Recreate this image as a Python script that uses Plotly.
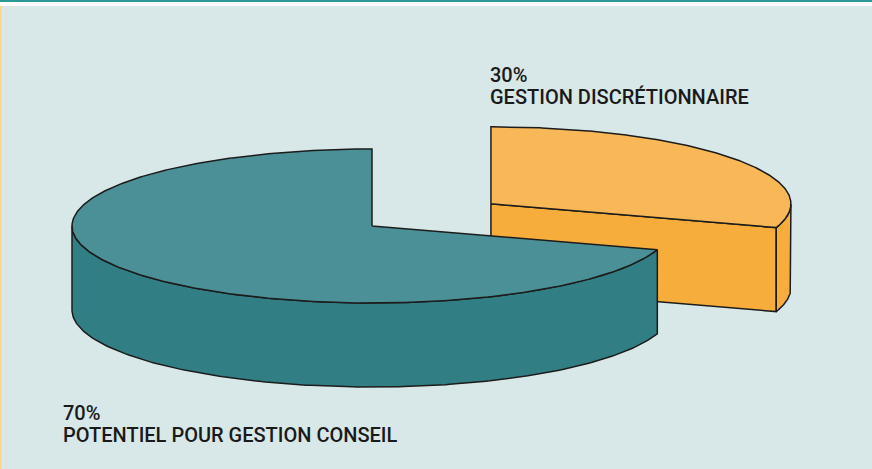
import numpy as np
import plotly.graph_objects as go

# ---- data ----
labels = ["GESTION DISCRÉTIONNAIRE", "POTENTIEL POUR GESTION CONSEIL"]
values = [30, 70]
pct_labels = ["30%", "70%"]

# ---- style ----
top_colors = ["#f8b857", "#4b9096"]
side_colors = ["#f6ad3c", "#317e84"]
edge_color = "#1c1c1c"
bg = "#d8e7e7"
W, H = 872, 469
CX, CY = 372, 226       # pie centre (pixel space)
RX, RY = 300, 77        # ellipse radii
DEPTH = 84
EXPLODE = [0.49, 0.0]   # fraction of radius
START = 90.0

fig = go.Figure()

total = float(sum(values))
angles = []
cum = 0.0
for v in values:
    a0 = START - cum / total * 360.0
    a1 = START - (cum + v) / total * 360.0
    angles.append((a0, a1))
    cum += v


def pt(cx, cy, th, dz=0.0):
    r = np.radians(th)
    return cx + RX * np.cos(r), cy - RY * np.sin(r) + dz


def add_poly(xs, ys, color):
    fig.add_trace(go.Scatter(x=list(xs), y=list(ys), mode="lines", fill="toself",
                             fillcolor=color, line=dict(color=edge_color, width=1.5),
                             hoverinfo="skip", showlegend=False))


slices = []
for i, (a0, a1) in enumerate(angles):
    mid = np.radians((a0 + a1) / 2)
    sx = CX + EXPLODE[i] * RX * np.cos(mid)
    sy = CY - EXPLODE[i] * RY * np.sin(mid)
    slices.append((np.sin(mid) * EXPLODE[i], i, sx, sy, a0, a1))

# draw back to front
slices.sort(key=lambda s: -s[0])

for _, i, sx, sy, a0, a1 in slices:
    # cut faces
    for edge, normal in ((a0, a0 + 90), (a1, a1 - 90)):
        if np.sin(np.radians(normal)) < -1e-3:
            ex, ey = pt(sx, sy, edge)
            add_poly([sx, ex, ex, sx, sx], [sy, ey, ey + DEPTH, sy + DEPTH, sy], side_colors[i])
    # outer wall (front part, sin < 0)
    lo, hi = a1, a0
    segs = []
    for k in range(-3, 3):
        f_lo, f_hi = -180 + 360 * k, 0 + 360 * k
        s_lo, s_hi = max(lo, f_lo), min(hi, f_hi)
        if s_hi > s_lo:
            segs.append((s_lo, s_hi))
    for s_lo, s_hi in segs:
        th = np.linspace(s_lo, s_hi, 200)
        tx, ty = pt(sx, sy, th)
        xs = np.concatenate([tx, tx[::-1], tx[:1]])
        ys = np.concatenate([ty, (ty + DEPTH)[::-1], ty[:1]])
        add_poly(xs, ys, side_colors[i])
    # top face
    th = np.linspace(a0, a1, 400)
    tx, ty = pt(sx, sy, th)
    add_poly(np.concatenate([[sx], tx, [sx]]), np.concatenate([[sy], ty, [sy]]), top_colors[i])

# labels
label_pos = [(488, 61), (61, 399)]
FONT = dict(family="Roboto", size=20, color="#1a1a1a", weight=500)
for i in range(len(values)):
    x0, y0 = label_pos[i]
    fig.add_annotation(x=x0, y=y0, xref="x", yref="y", text=pct_labels[i],
                       showarrow=False, xanchor="left", yanchor="top", font=FONT)
    fig.add_annotation(x=x0, y=y0 + 22, xref="x", yref="y", text=labels[i],
                       showarrow=False, xanchor="left", yanchor="top", font=FONT)

# frame decorations
fig.add_shape(type="rect", xref="paper", yref="y", x0=0, x1=1, y0=0, y1=6,
              fillcolor="white", line_width=0, layer="below")
fig.add_shape(type="rect", xref="paper", yref="y", x0=0, x1=1, y0=0, y1=2,
              fillcolor="#2a9896", line_width=0)
fig.add_shape(type="rect", xref="x", yref="y", x0=0, x1=2, y0=6, y1=H,
              fillcolor="#ffd98c", line_width=0)

fig.update_layout(
    width=W, height=H, margin=dict(l=0, r=0, t=0, b=0),
    paper_bgcolor=bg, plot_bgcolor=bg,
    xaxis=dict(range=[0, W], visible=False, fixedrange=True),
    yaxis=dict(range=[H, 0], visible=False, fixedrange=True),
    showlegend=False,
)

fig.write_html("out.html", config={"displayModeBar": False},
               post_script="document.body.style.margin='0';document.body.style.overflow='hidden';")
